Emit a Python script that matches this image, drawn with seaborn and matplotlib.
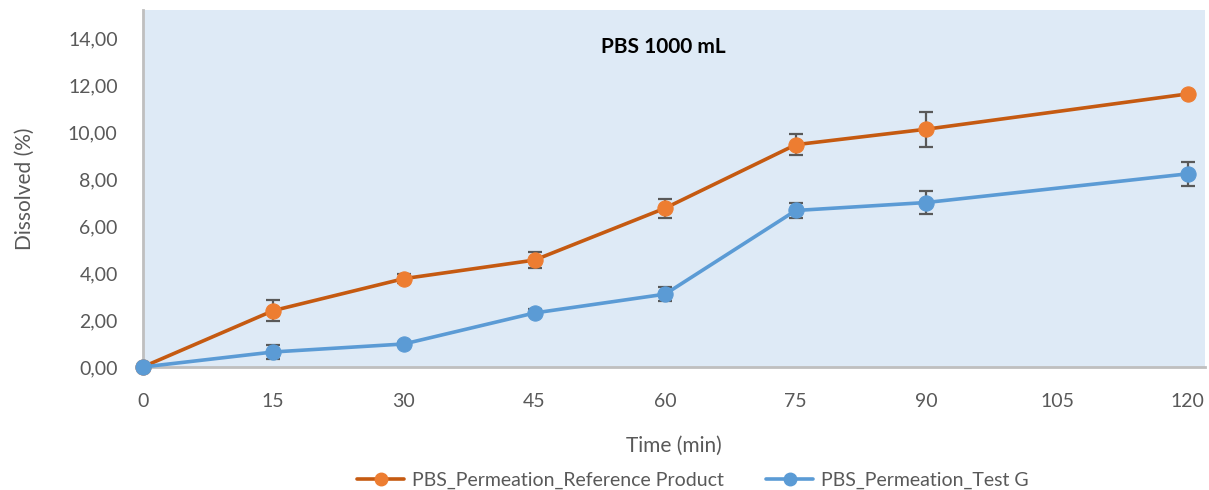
import matplotlib
matplotlib.use("Agg")
import matplotlib.pyplot as plt
import seaborn as sns
import pandas as pd
from matplotlib.lines import Line2D

# Dissolution data (% dissolved) over time
time_min = [0, 15, 30, 45, 60, 75, 90, 120]
reference_mean = [0.00, 2.40, 3.76, 4.55, 6.76, 9.46, 10.12, 11.62]
reference_sd = [0.00, 0.45, 0.20, 0.35, 0.40, 0.45, 0.75, 0.10]
test_g_mean = [0.00, 0.64, 0.98, 2.30, 3.10, 6.66, 7.00, 8.22]
test_g_sd = [0.00, 0.30, 0.08, 0.15, 0.30, 0.30, 0.50, 0.52]

ref_label = "PBS_Permeation_Reference Product"
test_label = "PBS_Permeation_Test G"
x_ticks = [0, 15, 30, 45, 60, 75, 90, 105, 120]
y_ticks = [0, 2, 4, 6, 8, 10, 12, 14]

sns.set_theme(style="white")
plt.rcParams["font.family"] = ["Lato", "DejaVu Sans"]

df = pd.DataFrame({
    "time": time_min * 2,
    "value": reference_mean + test_g_mean,
    "sd": reference_sd + test_g_sd,
    "series": [ref_label] * len(time_min) + [test_label] * len(time_min),
})

line_colors = {ref_label: "#C55A11", test_label: "#5B9BD5"}
marker_colors = {ref_label: "#ED7D31", test_label: "#5B9BD5"}

fig = plt.figure(figsize=(12.09, 4.90), dpi=100)
ax = fig.add_axes([0.118, 0.251, 0.8787, 0.729])
ax.set_facecolor("#DEEAF6")

for name in [ref_label, test_label]:
    sub = df[df["series"] == name]
    ax.errorbar(sub["time"], sub["value"], yerr=sub["sd"], fmt="none",
                ecolor="#595959", elinewidth=1.6, capsize=5, capthick=1.6,
                zorder=3)
    sns.lineplot(data=sub, x="time", y="value", ax=ax, color=line_colors[name],
                 linewidth=2.6, marker="o", markersize=11,
                 markerfacecolor=marker_colors[name],
                 markeredgecolor=marker_colors[name], legend=False,
                 zorder=4, clip_on=False)

ax.set_xlim(0, 122)
ax.set_ylim(0, 15.2)
ax.set_xticks(x_ticks)
ax.set_xticklabels([str(t) for t in x_ticks])
ax.set_yticks(y_ticks)
ax.set_yticklabels([f"{v:.2f}".replace(".", ",") for v in y_ticks])
ax.tick_params(axis="both", labelsize=14, labelcolor="#595959", length=0)
ax.tick_params(axis="x", pad=19)
ax.tick_params(axis="y", pad=18)

for side in ["top", "right"]:
    ax.spines[side].set_visible(False)
for side in ["left", "bottom"]:
    ax.spines[side].set_color("#BFBFBF")
    ax.spines[side].set_linewidth(2)

ax.set_xlabel("Time (min)", fontsize=15, color="#595959", labelpad=18)
ax.set_ylabel("Dissolved (%)", fontsize=15, color="#595959", labelpad=24)
ax.text(0.49, 0.895, "PBS 1000 mL", transform=ax.transAxes, ha="center",
        va="center", fontsize=15, fontweight="bold", color="black")

handles = [
    Line2D([0], [0], color=line_colors[n], linewidth=2.6, marker="o",
           markersize=9, markerfacecolor=marker_colors[n],
           markeredgecolor=marker_colors[n])
    for n in [ref_label, test_label]
]
fig.legend(handles, [ref_label, test_label], loc="center",
           bbox_to_anchor=(0.573, 0.02), ncol=2, frameon=False, fontsize=14,
           handlelength=2.4, columnspacing=2.2, handletextpad=0.4,
           labelcolor="#595959")

fig.savefig("out.png", dpi=100)
